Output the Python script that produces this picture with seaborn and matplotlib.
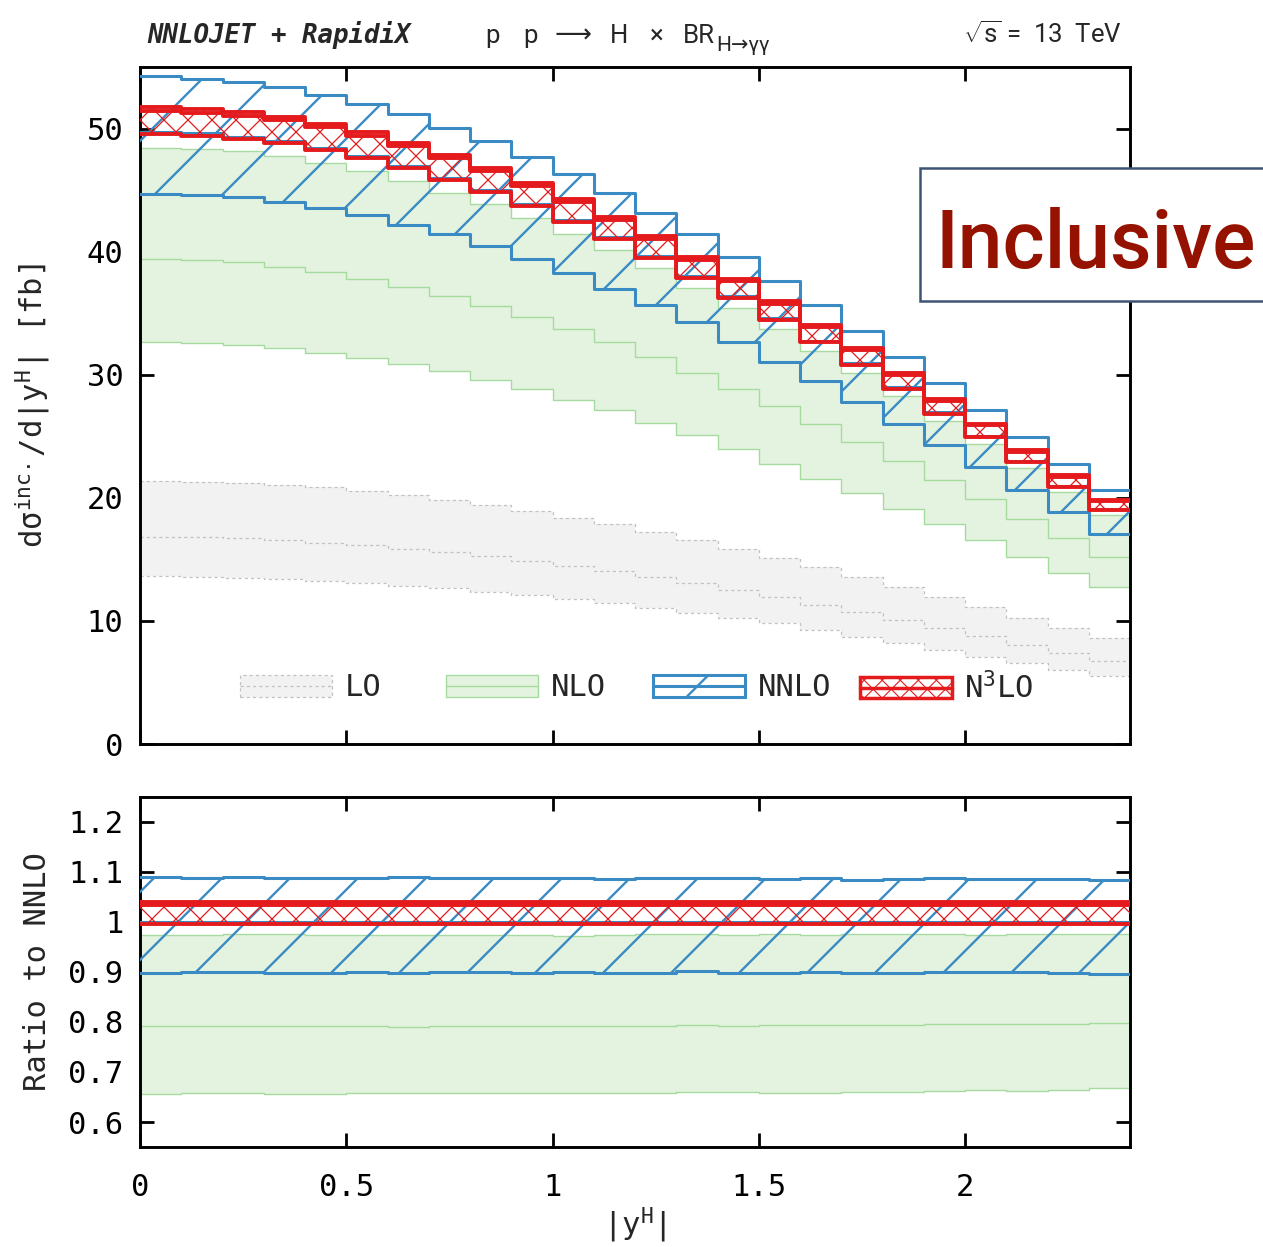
import numpy as np
import matplotlib
matplotlib.use("Agg")
import matplotlib.pyplot as plt
import seaborn as sns
from matplotlib.collections import LineCollection
from matplotlib.patches import Rectangle, Patch
from matplotlib.lines import Line2D
from matplotlib.legend import Legend
from matplotlib.legend_handler import HandlerBase
from matplotlib.ticker import MultipleLocator, FuncFormatter

# -----------------------------
# Data: 24 bins in |y^H|, dsigma/d|y^H| in fb
# -----------------------------
BIN_EDGES = [0.0, 0.1, 0.2, 0.3, 0.4, 0.5, 0.6, 0.7, 0.8, 0.9, 1.0, 1.1, 1.2,
             1.3, 1.4, 1.5, 1.6, 1.7, 1.8, 1.9, 2.0, 2.1, 2.2, 2.3, 2.4]

LO_UP = [21.35, 21.29, 21.21, 21.08, 20.84, 20.56, 20.21, 19.81, 19.40, 18.94, 18.40, 17.86,
         17.23, 16.56, 15.88, 15.12, 14.39, 13.58, 12.77, 11.96, 11.10, 10.20, 9.39, 8.58]
LO_C = [16.83, 16.78, 16.70, 16.56, 16.37, 16.15, 15.88, 15.61, 15.28, 14.88, 14.47, 14.07,
        13.57, 13.04, 12.50, 11.91, 11.33, 10.69, 10.06, 9.42, 8.74, 8.03, 7.39, 6.76]
LO_DN = [13.64, 13.58, 13.50, 13.37, 13.23, 13.04, 12.85, 12.64, 12.36, 12.09, 11.77, 11.42,
         11.01, 10.61, 10.20, 9.80, 9.25, 8.71, 8.17, 7.63, 7.09, 6.55, 6.01, 5.52]

NLO_UP = [48.43, 48.35, 48.16, 47.81, 47.19, 46.54, 45.72, 44.78, 43.83, 42.75, 41.40, 40.10,
          38.67, 37.08, 35.45, 33.74, 31.94, 30.17, 28.25, 26.27, 24.40, 22.39, 20.46, 18.60]
NLO_C = [39.39, 39.29, 39.12, 38.76, 38.33, 37.80, 37.14, 36.42, 35.61, 34.70, 33.70, 32.62,
         31.45, 30.16, 28.83, 27.46, 26.01, 24.57, 23.02, 21.42, 19.90, 18.28, 16.70, 15.20]
NLO_DN = [32.65, 32.61, 32.44, 32.17, 31.79, 31.39, 30.90, 30.28, 29.60, 28.84, 27.98, 27.11,
          26.08, 25.08, 24.00, 22.78, 21.56, 20.40, 19.13, 17.86, 16.61, 15.20, 13.91, 12.72]

NNLO_UP = [54.25, 54.00, 53.80, 53.35, 52.76, 52.00, 51.20, 50.05, 48.97, 47.70, 46.27, 44.78,
           43.13, 41.40, 39.56, 37.61, 35.63, 33.55, 31.44, 29.33, 27.16, 24.95, 22.78, 20.67]
NNLO_C = [49.75, 49.61, 49.34, 48.99, 48.45, 47.77, 46.96, 46.02, 44.99, 43.85, 42.55, 41.20,
          39.66, 38.03, 36.36, 34.60, 32.76, 30.94, 28.97, 26.94, 25.03, 22.96, 20.98, 19.07]
NNLO_DN = [44.70, 44.60, 44.40, 44.00, 43.55, 42.96, 42.20, 41.40, 40.45, 39.37, 38.26, 36.96,
           35.63, 34.28, 32.65, 31.06, 29.49, 27.79, 26.03, 24.27, 22.51, 20.67, 18.86, 17.10]

N3LO_UP = [51.74, 51.59, 51.31, 50.95, 50.39, 49.68, 48.84, 47.86, 46.79, 45.60, 44.25, 42.85,
           41.25, 39.55, 37.81, 35.98, 34.07, 32.18, 30.13, 28.02, 26.03, 23.88, 21.82, 19.83]
N3LO_C = [51.44, 51.30, 51.02, 50.66, 50.10, 49.39, 48.56, 47.58, 46.52, 45.34, 44.00, 42.60,
          41.01, 39.32, 37.60, 35.78, 33.87, 31.99, 29.96, 27.86, 25.88, 23.74, 21.69, 19.72]
N3LO_DN = [49.55, 49.41, 49.14, 48.79, 48.26, 47.58, 46.77, 45.84, 44.81, 43.67, 42.38, 41.04,
           39.50, 37.88, 36.21, 34.46, 32.63, 30.82, 28.85, 26.83, 24.93, 22.87, 20.90, 18.99]

LEGEND_LABELS = ["LO", "NLO", "NNLO", "N$^3$LO"]

# -----------------------------
# Style
# -----------------------------
W_PX, H_PX = 1263, 1247
BLUE = "#3a8bc4"
RED = "#e41a1c"
GREEN_E = "#a6dba0"
GREEN_F = "#e4f3e0"
GREY_F = "#f2f2f2"
GREY_E = "#c2c2c2"
DOTS = (0, (2.5, 2.5))

sns.set_theme(style="ticks")
plt.rcParams["font.family"] = ["DejaVu Sans Mono"]
plt.rcParams["mathtext.fontset"] = "custom"
plt.rcParams["mathtext.rm"] = "DejaVu Sans Mono"
plt.rcParams["mathtext.it"] = "DejaVu Sans Mono:italic"
plt.rcParams["mathtext.bf"] = "DejaVu Sans Mono:bold"
plt.rcParams["axes.linewidth"] = 2.1
plt.rcParams["axes.edgecolor"] = "black"
FS = 22
HEAD_FONT = ["Roboto", "DejaVu Sans"]


def st(v):
    v = np.asarray(v, dtype=float)
    return np.append(v, v[-1])


def step_line(ax, v, color, lw, ls="-", z=3):
    sns.lineplot(x=BIN_EDGES, y=st(v), drawstyle="steps-post", color=color,
                 linewidth=lw, linestyle=ls, estimator=None, sort=False,
                 ax=ax, zorder=z, legend=False)


def band(ax, lo, hi, face, z):
    return ax.fill_between(BIN_EDGES, st(lo), st(hi), step="post", facecolor=face,
                           edgecolor="none", linewidth=0, zorder=z)


def hatch(ax, lo, hi, color, lw, spacing, dirs, phase, z):
    # screen-space hatch (like gnuplot patterns), clipped to the band
    poly = band(ax, lo, hi, "none", z)
    pos = ax.get_position()
    w, h = pos.width * W_PX, pos.height * H_PX
    n0 = int(np.ceil((h + w) / spacing)) + 2
    segs = []
    for d in dirs:
        for k in range(-n0, n0):
            c = phase + k * spacing
            if d == "/":
                segs.append([(c / w, 0), ((c + h) / w, 1)])
            else:
                segs.append([(c / w, 0), ((c - h) / w, 1)])
    lc = LineCollection(segs, colors=color, linewidths=lw, transform=ax.transAxes, zorder=z)
    ax.add_collection(lc, autolim=False)
    lc.set_clip_path(poly.get_paths()[0], ax.transData)


class BandHandler(HandlerBase):
    def __init__(self, face, edge, lw, ls="-", dirs="", hcolor=None, hlw=1.0,
                 spacing=10.0, phase=0.0):
        super().__init__()
        self.face, self.edge, self.lw, self.ls = face, edge, lw, ls
        self.dirs, self.hcolor, self.hlw = dirs, hcolor, hlw
        self.spacing, self.phase = spacing, phase

    def create_artists(self, legend, orig_handle, xdescent, ydescent, width, height,
                       fontsize, trans):
        x0, y0 = -xdescent, -ydescent
        rect = Rectangle((x0, y0), width, height, facecolor=self.face, edgecolor=self.edge,
                         linewidth=self.lw, linestyle=self.ls, transform=trans)
        arts = [rect]
        if self.dirs:
            segs = []
            n0 = int(np.ceil((width + height) / self.spacing)) + 2
            for d in self.dirs:
                for k in range(-n0, n0):
                    c = x0 + self.phase + k * self.spacing
                    if d == "/":
                        segs.append([(c, y0), (c + height, y0 + height)])
                    else:
                        segs.append([(c, y0), (c - height, y0 + height)])
            lc = LineCollection(segs, colors=self.hcolor, linewidths=self.hlw, transform=trans)
            lc.set_clip_path(rect)
            arts.append(lc)
        mid = Line2D([x0, x0 + width], [y0 + height / 2] * 2, color=self.edge,
                     linewidth=self.lw, linestyle=self.ls, transform=trans)
        arts.append(mid)
        return arts


def fmt(v, _):
    s = f"{v:.1f}".rstrip("0").rstrip(".")
    return "0" if s in ("-0", "") else s


# -----------------------------
# Figure
# -----------------------------
fig = plt.figure(figsize=(W_PX / 100, H_PX / 100), dpi=100)
ax = fig.add_axes([140 / W_PX, 1 - 744 / H_PX, 990 / W_PX, 677 / H_PX])
axr = fig.add_axes([140 / W_PX, 1 - 1147 / H_PX, 990 / W_PX, 350 / H_PX])

# main panel
band(ax, LO_DN, LO_UP, GREY_F, 1)
for v in (LO_UP, LO_C, LO_DN):
    step_line(ax, v, GREY_E, 0.9, DOTS, 1.5)
band(ax, NLO_DN, NLO_UP, GREEN_F, 1.2)
for v in (NLO_UP, NLO_C, NLO_DN):
    step_line(ax, v, GREEN_E, 1.0, "-", 2)
hatch(ax, NNLO_DN, NNLO_UP, BLUE, 1.7, 68, "/", 9, 3)
for v in (NNLO_UP, NNLO_C, NNLO_DN):
    step_line(ax, v, BLUE, 2.2, "-", 3.5)
hatch(ax, N3LO_DN, N3LO_UP, RED, 0.9, 24, "/\\", 0, 4)
for v in (N3LO_UP, N3LO_C, N3LO_DN):
    step_line(ax, v, RED, 2.8, "-", 4.5)

# ratio panel
ref = np.asarray(NNLO_C)
def rat(v):
    return np.asarray(v) / ref

band(axr, rat(NLO_DN), rat(NLO_UP), GREEN_F, 1.2)
for v in (NLO_UP, NLO_C, NLO_DN):
    step_line(axr, rat(v), GREEN_E, 1.0, "-", 2)
hatch(axr, rat(NNLO_DN), rat(NNLO_UP), BLUE, 1.7, 68, "/", 17, 3)
for v in (NNLO_UP, NNLO_C, NNLO_DN):
    step_line(axr, rat(v), BLUE, 2.2, "-", 3.5)
hatch(axr, rat(N3LO_DN), rat(N3LO_UP), RED, 0.9, 24, "/\\", 0, 4)
for v in (N3LO_UP, N3LO_C, N3LO_DN):
    step_line(axr, rat(v), RED, 2.8, "-", 4.5)

# axes cosmetics
for a in (ax, axr):
    a.set_xlim(0, 2.4)
    a.xaxis.set_major_locator(MultipleLocator(0.5))
    a.tick_params(direction="in", length=10, width=2, top=True, right=True,
                  labelsize=FS, colors="black")
    a.tick_params(axis="y", pad=12)
    a.tick_params(axis="x", pad=19)
    a.xaxis.set_major_formatter(FuncFormatter(fmt))
    a.yaxis.set_major_formatter(FuncFormatter(fmt))
    a.grid(False)
ax.set_ylim(0, 55)
ax.yaxis.set_major_locator(MultipleLocator(10))
ax.tick_params(labelbottom=False)
axr.set_ylim(0.55, 1.25)
axr.yaxis.set_major_locator(MultipleLocator(0.1))

ax.set_xlabel("")
ax.set_ylabel(r"dσ$^{\rm inc.}$/d|y$^{\rm H}$| [fb]", fontsize=FS)
ax.yaxis.set_label_coords(-0.089, 0.5)
axr.set_ylabel("Ratio to NNLO", fontsize=FS)
axr.yaxis.set_label_coords(-0.089, 0.5)
axr.set_xlabel(r"|y$^{\rm H}$|", fontsize=FS)
axr.xaxis.set_label_coords(0.5, -0.166)

# legend: four equally spaced entries
handlers = [
    BandHandler(GREY_F, GREY_E, 0.9, DOTS),
    BandHandler(GREEN_F, GREEN_E, 1.0),
    BandHandler("white", BLUE, 2.2, "-", "/", BLUE, 1.7, 100.0, 24.5),
    BandHandler("white", RED, 2.5, "-", "/\\", RED, 0.8, 13.0, 3.0),
]
x_handles = [240, 446, 653, 860]
for lab, hnd, xp in zip(LEGEND_LABELS, handlers, x_handles):
    proxy = Patch()
    leg = Legend(ax, [proxy], [lab], handler_map={proxy: hnd}, loc="center left",
                 bbox_to_anchor=((xp - 140) / 990, (744 - 688) / 677), frameon=False,
                 borderpad=0, borderaxespad=0, handlelength=3.02, handleheight=0.7,
                 handletextpad=0.4, fontsize=FS)
    ax.add_artist(leg)

# header
yb = 1 - 43 / H_PX
fig.text(147 / W_PX, yb, "NNLOJET + RapidiX", fontsize=18.5, fontweight="bold",
         fontstyle="italic", va="baseline", ha="left")
for xp, tok in [(485, "p"), (523, "p"), (555, "⟶"), (610, "H"), (650, "×"), (683, "BR")]:
    fig.text(xp / W_PX, yb, tok, fontsize=18.5, family=HEAD_FONT, va="baseline", ha="left")
fig.text(716 / W_PX, yb - 8 / H_PX, "H→γγ", fontsize=15, family=HEAD_FONT,
         va="baseline", ha="left")
fig.text(1122 / W_PX, yb, r"$\sqrt{\mathregular{s}}$ =  13  TeV", fontsize=18.5,
         family=HEAD_FONT, va="baseline", ha="right")

# "Inclusive" label box
box = Rectangle((920 / W_PX, 1 - 301 / H_PX), 0.5, 133 / H_PX, transform=fig.transFigure,
                facecolor="white", edgecolor="#3d5473", linewidth=1.8, zorder=10)
fig.add_artist(box)
fig.text(936 / W_PX, 1 - 268 / H_PX, "Inclusive", family="Roboto",
         fontweight="medium", fontsize=58, color="#961200", va="baseline", ha="left",
         zorder=11)

fig.savefig("out.png", dpi=100)
